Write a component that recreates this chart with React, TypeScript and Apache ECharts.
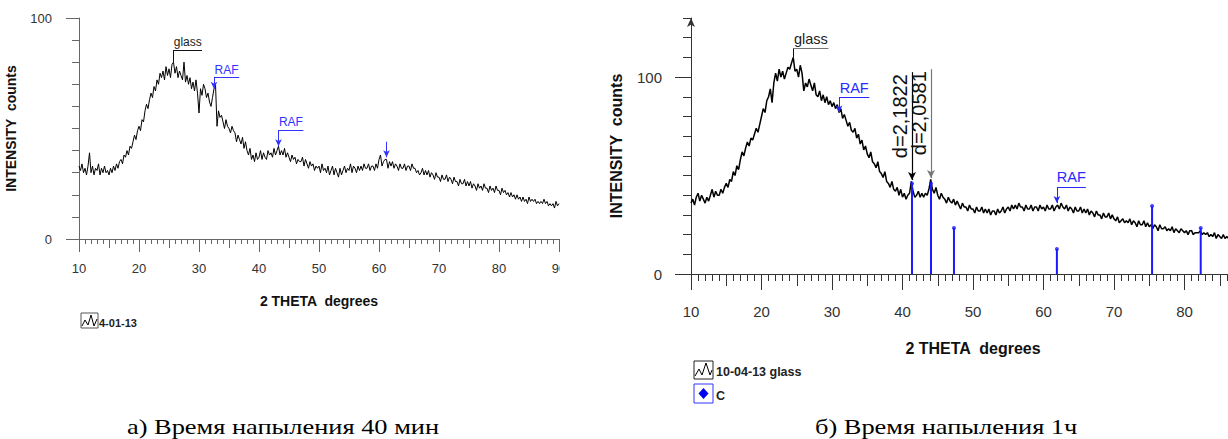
import React, { useEffect, useRef } from "react";
import * as echarts from "echarts";

// ---------- DATA ----------
const THETA_START = 10;
const THETA_STEP = 0.25;

// left pattern (4-01-13), 10..90 deg, step 0.25
const LEFT_COUNTS = [
  33, 31, 34, 30, 32, 29, 33, 39, 30, 33, 29, 32, 31, 34, 29, 32, 30, 33, 30, 31,
  29, 32, 30, 33, 31, 34, 32, 35, 36, 34, 38, 37, 40, 38, 42, 41, 44, 47, 45, 49,
  51, 49, 54, 53, 58, 61, 59, 63, 66, 64, 69, 67, 72, 70, 75, 73, 76, 72, 78, 74,
  77, 73, 79, 80, 75, 78, 73, 76, 74, 72, 80, 71, 74, 70, 73, 68, 71, 67, 72, 66,
  57, 68, 65, 70, 68, 64, 66, 62, 60, 64, 68, 70, 51, 58, 55, 56, 53, 50, 54, 51,
  50, 48, 51, 49, 48, 44, 47, 45, 43, 46, 41, 44, 40, 38, 41, 36, 38, 35, 39, 36,
  37, 40, 36, 39, 37, 36, 40, 38, 39, 37, 41, 38, 40, 42, 38, 40, 38, 41, 37, 39,
  37, 35, 38, 36, 37, 34, 36, 35, 35, 37, 33, 36, 34, 32, 35, 33, 34, 31, 33, 32,
  33, 30, 34, 31, 32, 30, 33, 29, 31, 33, 29, 32, 30, 28, 32, 29, 31, 33, 30, 32,
  31, 34, 30, 33, 32, 30, 33, 31, 33, 31, 34, 32, 32, 34, 31, 33, 33, 31, 34, 32,
  36, 38, 33, 35, 36, 36, 32, 35, 33, 35, 32, 34, 33, 31, 34, 32, 32, 34, 31, 33,
  33, 31, 34, 32, 32, 30, 31, 29, 30, 32, 29, 31, 29, 31, 28, 30, 29, 27, 30, 28,
  28, 26, 29, 27, 27, 29, 26, 28, 27, 25, 28, 26, 26, 24, 27, 25, 25, 27, 24, 26,
  24, 26, 23, 25, 24, 22, 25, 23, 24, 22, 25, 23, 23, 21, 24, 22, 23, 21, 24, 22,
  22, 20, 23, 21, 22, 20, 21, 19, 21, 19, 20, 18, 20, 18, 19, 17, 19, 17, 18, 16,
  19, 17, 18, 17, 18, 16, 17, 16, 17, 16, 18, 16, 17, 15, 16, 15, 16, 14, 17, 15,
  16,
];

// right pattern (10-04-13 glass), 10..87 deg, step 0.25
const RIGHT_COUNTS = [
  36, 38, 35, 39, 41, 37, 40, 38, 36, 39, 37, 40, 43, 39, 42, 40, 40, 43, 41, 44,
  46, 44, 48, 47, 52, 50, 55, 53, 58, 62, 60, 64, 67, 65, 69, 68, 71, 74, 72, 76,
  80, 84, 82, 88, 90, 94, 87, 97, 102, 98, 104, 100, 103, 99, 102, 105, 104, 107, 110, 103,
  104, 100, 106, 102, 93, 97, 95, 99, 96, 93, 97, 91, 90, 93, 88, 91, 87, 90, 86, 88,
  85, 87, 84, 86, 82, 84, 79, 81, 78, 75, 77, 73, 72, 74, 69, 71, 66, 68, 63, 65,
  61, 59, 62, 57, 56, 54, 57, 52, 51, 49, 52, 47, 46, 44, 47, 43, 42, 44, 40, 43,
  39, 41, 38, 40, 41, 47, 42, 39, 40, 42, 39, 41, 39, 41, 40, 43, 48, 43, 41, 44,
  40, 38, 41, 39, 38, 36, 39, 37, 36, 38, 35, 37, 35, 33, 36, 34, 34, 32, 35, 33,
  33, 31, 34, 32, 32, 34, 31, 33, 31, 33, 30, 32, 32, 30, 33, 31, 32, 34, 31, 33,
  34, 32, 35, 33, 35, 33, 36, 34, 34, 32, 35, 33, 33, 35, 32, 34, 34, 32, 35, 33,
  34, 32, 35, 33, 33, 35, 32, 34, 35, 33, 36, 34, 33, 35, 32, 34, 33, 31, 34, 32,
  32, 34, 31, 33, 31, 33, 30, 32, 31, 29, 32, 30, 30, 28, 31, 29, 29, 31, 28, 30,
  28, 27, 29, 26, 27, 28, 26, 27, 26, 28, 25, 27, 26, 24, 27, 25, 25, 27, 24, 26,
  24, 25, 23, 25, 24, 22, 25, 23, 23, 24, 22, 23, 22, 24, 21, 23, 22, 21, 23, 22,
  21, 22, 20, 22, 22, 20, 21, 21, 21, 22, 20, 21, 20, 21, 19, 20, 19, 21, 18, 20,
  19, 18, 20, 18, 19, 18, 19, 17, 18,
];

// reference pattern "C": [2θ, intensity]
const C_STICKS = [
  [41.35, 46],
  [44.04, 46],
  [47.3, 23.4],
  [61.9, 12.7],
  [75.4, 34.5],
  [82.3, 23.4],
];

// peak labels: [text, 2θ, tip (counts), bracket level (counts), bracket end 2θ]
const LEFT_PEAKS = [
  ["glass", 25.75, 80, 85.5, 30.5],
  ["RAF", 32.5, 68, 73, 36.7],
  ["RAF", 43.25, 42, 49.3, 47.4],
];
const LEFT_ARROWS = [[61.25, 37, 44]];
const RIGHT_PEAKS = [
  ["glass", 24.5, 110, 114.7, 29.5],
  ["RAF", 31.0, 82, 89.8, 35.3],
  ["RAF", 61.9, 36, 44.2, 66.0],
];
// d-spacing lines: [text, 2θ, tip, top]
const RIGHT_D_LINES = [
  ["d=2,1822", 41.35, 47.7, 102.5],
  ["d=2,0581", 44.04, 48.7, 104],
];

const LEFT_NAME = "4-01-13";
const RIGHT_NAME = "10-04-13 glass";
const C_NAME = "C";
const X_TITLE = "2 THETA  degrees";
const Y_TITLE = "INTENSITY  counts";
const LEFT_CAPTION = "а) Время напыления 40 мин";
const RIGHT_CAPTION = "б) Время напыления 1ч";
const LEFT_Y_MAX = 100;
const RIGHT_Y_MAX = 130;
const X_MIN = 10;
const X_MAX = 90;
const Y_LABELS = [0, 100];
const Y_MINOR = [0, 10, 20, 30, 40, 50, 60, 70, 80, 90, 100, 110, 120, 130];

// ---------- helpers ----------
const FONT = 'Arial, "Liberation Sans", sans-serif';
const SERIF = '"Liberation Serif", "Times New Roman", serif';

const toPairs = (arr: number[]) =>
  arr.map((v, i) => [Number((THETA_START + i * THETA_STEP).toFixed(2)), v]);

function bracketLines(peaks: any[], blue: string, black: string, hColorBlack: string, fontSize: number) {
  const out: any[] = [];
  peaks.forEach(([text, x, tip, top, end]) => {
    const isGlass = text === "glass";
    const c = isGlass ? black : blue;
    out.push([
      { coord: [x, tip], symbol: isGlass ? "none" : "arrow", symbolSize: [5, 7], lineStyle: { color: c, width: 1, type: "solid" }, itemStyle: { color: c } },
      { coord: [x, top], symbol: "none" },
    ]);
    out.push([
      {
        coord: [x, top],
        symbol: "none",
        lineStyle: { color: isGlass ? hColorBlack : blue, width: 1, type: "solid" },
        label: { show: true, position: "middle", formatter: text, color: isGlass ? "#222" : blue, fontSize, fontFamily: FONT, distance: 2 },
      },
      { coord: [end, top], symbol: "none" },
    ]);
  });
  return out;
}

function xAxes(lens: number[], color: string, labelSize: number, labelMargin: number, nameSize: number, nameGap: number, showMax: boolean) {
  const base = { type: "value", min: X_MIN, max: X_MAX, position: "bottom", gridIndex: 0, splitLine: { show: false } };
  return [
    {
      ...base,
      interval: 10,
      axisLine: { show: true, lineStyle: { color, width: 1 } },
      axisTick: { show: true, length: lens[0], lineStyle: { color } },
      axisLabel: { show: true, margin: labelMargin, fontSize: labelSize, color: "#333", fontFamily: FONT, showMaxLabel: showMax },
      name: X_TITLE,
      nameLocation: "middle",
      nameGap,
      nameTextStyle: { fontWeight: "bold", fontSize: nameSize, color: "#111", fontFamily: FONT },
    },
    { ...base, interval: 5, axisLine: { show: false }, axisTick: { show: true, length: lens[1], lineStyle: { color } }, axisLabel: { show: false } },
    { ...base, interval: 1, axisLine: { show: false }, axisTick: { show: true, length: lens[2], lineStyle: { color } }, axisLabel: { show: false } },
  ];
}

function yAxes(max: number, color: string, longLen: number, shortLen: number, labelSize: number, labelMargin: number, nameSize: number, nameGap: number, arrow: boolean, labelPad: number) {
  return [
    {
      type: "value",
      min: 0,
      max,
      interval: 10,
      position: "left",
      axisLine: { show: true, lineStyle: { color, width: 1 }, symbol: arrow ? ["none", "arrow"] : ["none", "none"], symbolSize: [6, 9] },
      axisTick: { show: true, length: shortLen, lineStyle: { color }, customValues: Y_MINOR.filter((v) => v <= max) },
      axisLabel: { show: false },
      splitLine: { show: false },
      name: Y_TITLE,
      nameLocation: "middle",
      nameRotate: 90,
      nameGap,
      nameTextStyle: { fontWeight: "bold", fontSize: nameSize, color: "#111", fontFamily: FONT },
    },
    {
      type: "value",
      min: 0,
      max,
      interval: 10,
      position: "left",
      axisLine: { show: false },
      axisTick: { show: true, length: longLen, lineStyle: { color }, customValues: Y_LABELS },
      axisLabel: {
        show: true,
        customValues: Y_LABELS,
        formatter: (v: number) => (Y_LABELS.includes(v) ? String(v) : ""),
        margin: labelMargin,
        fontSize: labelSize,
        color: "#333",
        fontFamily: FONT,
        padding: [labelPad, 0, 0, 0],
      },
      splitLine: { show: false },
    },
  ];
}

function leftOption() {
  const blue = "#3333ff";
  return {
    animation: false,
    textStyle: { fontFamily: FONT },
    grid: { left: 79, top: 18, width: 480, height: 221, outerBoundsMode: "none", containLabel: false },
    xAxis: xAxes([13, 9, 5], "#666", 13, 23, 14, 55, true),
    yAxis: yAxes(LEFT_Y_MAX, "#666", 13, 7, 13, 27, 14, 61, false, 2),
    series: [
      {
        name: LEFT_NAME,
        type: "line",
        xAxisIndex: 0,
        yAxisIndex: 0,
        data: toPairs(LEFT_COUNTS),
        showSymbol: false,
        symbol: "none",
        lineStyle: { color: "#000", width: 1 },
        itemStyle: { color: "#000" },
        markLine: {
          silent: true,
          animation: false,
          symbol: ["none", "none"],
          label: { show: false },
          data: [
            ...bracketLines(LEFT_PEAKS, blue, "#111", "#111", 12),
            ...LEFT_ARROWS.map(([x, tip, top]) => [
              { coord: [x, tip], symbol: "arrow", symbolSize: [5, 7], lineStyle: { color: blue, width: 1, type: "solid" }, itemStyle: { color: blue } },
              { coord: [x, top], symbol: "none" },
            ]),
          ],
        },
      },
    ],
    graphic: [
      { type: "rect", shape: { x: 81, y: 313, width: 17, height: 15 }, style: { fill: "none", stroke: "#555", lineWidth: 1 } },
      { type: "polyline", shape: { points: [[82, 326], [85, 320], [88, 325], [91, 315], [94, 326], [97, 319]] }, style: { stroke: "#000", fill: "none", lineWidth: 1 } },
      { type: "text", x: 99, y: 323, style: { text: LEFT_NAME, fontSize: 11, fontWeight: "bold", fontFamily: FONT, fill: "#222", verticalAlign: "middle" } },
      { type: "text", x: 127, y: 426, scaleX: 1.2, style: { text: LEFT_CAPTION, fontSize: 22, fontFamily: SERIF, fill: "#000", verticalAlign: "middle" } },
    ],
  };
}

function rightOption() {
  const blue = "#1a1aff";
  const raf = "#2a2aff";
  return {
    animation: false,
    textStyle: { fontFamily: FONT },
    grid: { left: 128, top: 18, width: 564, height: 256, outerBoundsMode: "none", containLabel: false },
    xAxis: xAxes([16, 12, 7], "#333", 15, 30, 16, 66, false),
    yAxis: yAxes(RIGHT_Y_MAX, "#333", 16, 8, 15, 29, 16, 67, true, 9),
    series: [
      {
        name: RIGHT_NAME,
        type: "line",
        xAxisIndex: 0,
        yAxisIndex: 0,
        data: toPairs(RIGHT_COUNTS),
        showSymbol: false,
        symbol: "none",
        lineStyle: { color: "#000", width: 1.5 },
        itemStyle: { color: "#000" },
        z: 2,
      },
      {
        name: C_NAME,
        type: "bar",
        xAxisIndex: 0,
        yAxisIndex: 0,
        data: C_STICKS,
        barWidth: 2,
        itemStyle: { color: blue },
        z: 3,
      },
      {
        name: C_NAME,
        type: "scatter",
        xAxisIndex: 0,
        yAxisIndex: 0,
        data: C_STICKS,
        symbol: "circle",
        symbolSize: 4,
        itemStyle: { color: blue },
        z: 4,
        markLine: {
          silent: true,
          animation: false,
          symbol: ["none", "none"],
          label: { show: false },
          data: [
            ...bracketLines(RIGHT_PEAKS, raf, "#111", "#777", 14.5),
            ...RIGHT_D_LINES.map(([text, x, tip, top], i) => [
              {
                coord: [x, tip],
                symbol: "arrow",
                symbolSize: [6, 8],
                lineStyle: { color: i === 0 ? "#000" : "#777", width: 1.2, type: "solid" },
                itemStyle: { color: "#222" },
                label: { show: true, position: "insideEndTop", formatter: text, color: "#111", fontSize: 20, fontFamily: FONT, distance: 2 },
              },
              { coord: [x, top], symbol: "none" },
            ]),
          ],
        },
      },
    ],
    graphic: [
      { type: "rect", shape: { x: 131, y: 361, width: 19, height: 18 }, style: { fill: "none", stroke: "#222", lineWidth: 1 } },
      { type: "polyline", shape: { points: [[132, 376], [136, 369], [139, 375], [143, 363], [147, 375], [149, 370]] }, style: { stroke: "#000", fill: "none", lineWidth: 1 } },
      { type: "text", x: 153, y: 372, style: { text: RIGHT_NAME, fontSize: 12.5, fontWeight: "bold", fontFamily: FONT, fill: "#222", verticalAlign: "middle" } },
      { type: "rect", shape: { x: 131, y: 384, width: 19, height: 19 }, style: { fill: "none", stroke: "#3333ff", lineWidth: 1 } },
      { type: "polygon", shape: { points: [[140.5, 388], [145.5, 393.5], [140.5, 399], [135.5, 393.5]] }, style: { fill: "#0000ee", stroke: "none" } },
      { type: "text", x: 153, y: 396, style: { text: C_NAME, fontSize: 12.5, fontWeight: "bold", fontFamily: FONT, fill: "#222", verticalAlign: "middle" } },
      { type: "text", x: 252, y: 426, scaleX: 1.2, style: { text: RIGHT_CAPTION, fontSize: 22, fontFamily: SERIF, fill: "#000", verticalAlign: "middle" } },
    ],
  };
}

export default function App() {
  const leftRef = useRef<HTMLDivElement>(null);
  const rightRef = useRef<HTMLDivElement>(null);
  useEffect(() => {
    const l = echarts.init(leftRef.current!, null, { renderer: "svg" });
    l.setOption(leftOption() as any);
    const r = echarts.init(rightRef.current!, null, { renderer: "svg" });
    r.setOption(rightOption() as any);
    return () => {
      l.dispose();
      r.dispose();
    };
  }, []);
  return (
    <div style={{ position: "fixed", left: 0, top: 0, width: 1228, height: 439, background: "#fff", overflow: "hidden" }}>
      <div ref={leftRef} style={{ position: "absolute", left: 0, top: 0, width: 560, height: 439 }} />
      <div ref={rightRef} style={{ position: "absolute", left: 563, top: 0, width: 665, height: 439 }} />
    </div>
  );
}
